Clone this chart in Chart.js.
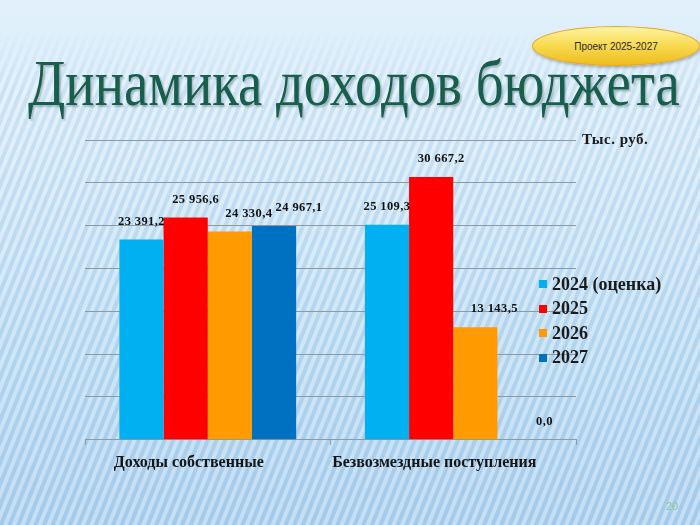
<!DOCTYPE html>
<html>
<head>
<meta charset="utf-8">
<script src="https://cdn.jsdelivr.net/npm/chart.js@4.4.1/dist/chart.umd.min.js"></script>
<style>
  html, body { margin: 0; padding: 0; }
  body { width: 700px; height: 525px; position: relative; overflow: hidden;
    background: linear-gradient(180deg, #e2f1fb 0%, #d2e8f8 30%, #bcdcf3 65%, #abd0ee 100%); }
  #stripes { position: absolute; left: 0; top: 0; width: 700px; height: 525px;
    background: repeating-linear-gradient(112deg, rgba(255,255,255,0.3) 0px, rgba(255,255,255,0.3) 3px, rgba(120,170,215,0.14) 4px, rgba(120,170,215,0.14) 7px, rgba(255,255,255,0.3) 8px);
    -webkit-mask-image: linear-gradient(180deg, transparent 0px, transparent 30px, #000 90px, #000 100%);
    mask-image: linear-gradient(180deg, transparent 0px, transparent 30px, #000 90px, #000 100%); }
  #wrap { position: absolute; left: 0; top: 0; width: 700px; height: 525px; }
  #title { position: absolute; left: 28px; top: 50px; font-family: "Liberation Serif", "Times New Roman", serif;
    font-size: 66px; line-height: 66px; color: #185e4d; white-space: nowrap; transform-origin: 0 0;
    text-shadow: 2px 2px 2px rgba(40,60,60,0.3); }
  #badge { position: absolute; left: 532px; top: 26px; width: 166px; height: 38px; border-radius: 50%;
    background: linear-gradient(180deg, #fff3a6 0%, #f8dc55 45%, #efbd1c 100%);
    border: 1px solid #e2a823; box-shadow: 1px 2px 3px rgba(0,0,0,0.25);
    font-family: "Liberation Sans", Arial, sans-serif; font-size: 10px; color: #2a2a2a;
    display: flex; align-items: center; justify-content: center; }
  #unit { position: absolute; left: 582px; top: 131px; font-family: "Liberation Serif", serif;
    font-weight: bold; font-size: 15px; color: #1a1a1a; letter-spacing: 0.5px; }
  #legend { position: absolute; left: 539px; top: 272px; font-family: "Liberation Serif", serif;
    font-weight: bold; font-size: 18px; color: #1a1a1a; }
  #legend .row { height: 24.5px; display: flex; align-items: center; white-space: nowrap; }
  #legend .sw { width: 8px; height: 8px; margin-right: 5px; }
  #page { position: absolute; left: 666px; top: 500px; font-family: "Liberation Sans", Arial, sans-serif;
    font-size: 11px; color: #8fc49a; }
</style>
</head>
<body>
<div id="stripes"></div>
<div id="title">Динамика доходов бюджета</div>
<div id="badge">Проект 2025-2027</div>
<div id="wrap"><canvas id="c"></canvas></div>
<div id="unit">Тыс. руб.</div>
<div id="legend"></div>
<div id="page">20</div>
<script>
// ---- data ----
const categories = ["Доходы собственные", "Безвозмездные поступления"];
const seriesNames = ["2024 (оценка)", "2025", "2026", "2027"];
const values2024 = [23391.2, 25109.3];
const values2025 = [25956.6, 30667.2];
const values2026 = [24330.4, 13143.5];
const values2027 = [24967.1, 0.0];
const yTicks = [0, 5000, 10000, 15000, 20000, 25000, 30000, 35000];

// ---- styles ----
const colors = ["#00b0f0", "#ff0000", "#ff9a00", "#0070c0"];
const labelShift = [0, 10, 19, 25];

// title fit
const t = document.getElementById('title');
t.style.transform = 'scaleX(' + (652 / t.offsetWidth) + ')';

function fmt(v) {
  const s = v.toFixed(1).split('.');
  const int = s[0].replace(/\B(?=(\d{3})+(?!\d))/g, ' ');
  return int + ',' + s[1];
}

const allValues = [values2024, values2025, values2026, values2027];
const datasets = seriesNames.map((n, i) => ({
  label: n, data: allValues[i], backgroundColor: colors[i], borderWidth: 0,
  categoryPercentage: 0.72, barPercentage: 1.0
}));

// legend
const lg = document.getElementById('legend');
seriesNames.forEach((n, i) => {
  const r = document.createElement('div'); r.className = 'row';
  const sw = document.createElement('div'); sw.className = 'sw'; sw.style.background = colors[i];
  const tx = document.createElement('span'); tx.textContent = n;
  r.appendChild(sw); r.appendChild(tx); lg.appendChild(r);
});

const labelPlugin = {
  id: 'vals',
  afterDatasetsDraw(chart) {
    const ctx = chart.ctx;
    ctx.save();
    ctx.font = 'bold 12.5px "Liberation Serif", serif';
    try { ctx.letterSpacing = '0.4px'; } catch (e) {}
    ctx.fillStyle = '#111';
    ctx.textAlign = 'center';
    ctx.textBaseline = 'middle';
    chart.data.datasets.forEach((ds, di) => {
      const meta = chart.getDatasetMeta(di);
      meta.data.forEach((el, i) => {
        ctx.fillText(fmt(ds.data[i]), el.x + labelShift[di], el.y - 18);
      });
    });
    ctx.restore();
  }
};

new Chart(document.getElementById('c'), {
  type: 'bar',
  data: { labels: categories, datasets },
  options: {
    responsive: true, maintainAspectRatio: false, animation: false,
    layout: { padding: { left: 85, right: 124, top: 140, bottom: 45 } },
    plugins: { legend: { display: false }, tooltip: { enabled: false } },
    scales: {
      x: {
        grid: { display: true, drawOnChartArea: false, drawTicks: true, tickLength: 5, color: '#8c9aa5', offset: true },
        border: { display: true, color: '#8c9aa5' },
        ticks: { color: '#151515', font: { family: '"Liberation Serif", serif', size: 16, weight: 'bold' }, padding: 8, labelOffset: -19, maxRotation: 0 }
      },
      y: {
        min: yTicks[0], max: yTicks[yTicks.length - 1],
        afterBuildTicks(axis) { axis.ticks = yTicks.map(v => ({ value: v })); },
        grid: { color: '#8c9aa5', drawTicks: false },
        border: { display: false },
        ticks: { display: false }
      }
    }
  },
  plugins: [labelPlugin]
});
</script>
</body>
</html>
